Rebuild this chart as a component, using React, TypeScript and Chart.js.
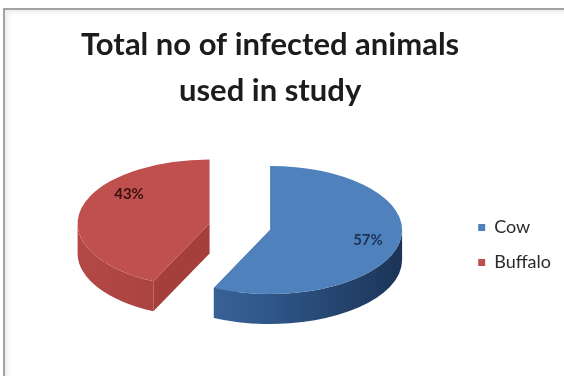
import React, { useEffect, useRef } from 'react';
import { Chart, registerables } from 'chart.js';

Chart.register(...registerables);

// Chart content
const titleLines = ['Total no of infected animals', 'used in study'];
const categories = ['Cow', 'Buffalo'];
const shares = [57, 43];

// Styling
const sliceColors = ['#4F81BD', '#C0504D'];
const wallStops = [
  ['#4470a8', '#2f5688', '#1b3457'],
  ['#b34946', '#a53f3c', '#943532'],
];
const cutFaceColors = ['#2f5688', '#a43f3c'];
const labelColors = ['#1b3157', '#3a1110'];
const labelPlacement = [
  { r: 0.76, turn: 0 },
  { r: 0.765, turn: 24.5 },
];
const sliceExplode = [0, 62];
const TILT = 0.485; // vertical squash of the pie top
const DEPTH = 30; // thickness of the pie body in px

type Slice = {
  i: number;
  ox: number;
  oy: number;
  s: number;
  e: number;
  R: number;
  mid: number;
};

const pie3d = {
  id: 'pie3d',
  beforeDatasetsDraw(chart: any) {
    const ctx: CanvasRenderingContext2D = chart.ctx;
    const meta = chart.getDatasetMeta(0);
    const data: number[] = chart.data.datasets[0].data;
    const total = data.reduce((a, b) => a + b, 0);

    const slices: Slice[] = meta.data.map((arc: any, i: number) => {
      const { x, y, startAngle, endAngle, outerRadius } = arc.getProps(
        ['x', 'y', 'startAngle', 'endAngle', 'outerRadius'],
        true
      );
      const explode = arc.options.offset || 0;
      const mid = (startAngle + endAngle) / 2;
      return {
        i,
        ox: x + Math.cos(mid) * explode,
        oy: y - DEPTH / 2 + Math.sin(mid) * explode * TILT,
        s: startAngle,
        e: endAngle,
        R: outerRadius,
        mid,
      };
    });

    const rim = (sl: Slice, a: number, z: number): [number, number] => [
      sl.ox + sl.R * Math.cos(a),
      sl.oy + sl.R * TILT * Math.sin(a) + z,
    ];

    const order = [...slices].sort((a, b) => Math.sin(a.mid) - Math.sin(b.mid));

    for (const sl of order) {
      // cut faces along both radial edges
      for (const a of [sl.s, sl.e]) {
        const [tx, ty] = rim(sl, a, 0);
        ctx.beginPath();
        ctx.moveTo(sl.ox, sl.oy);
        ctx.lineTo(tx, ty);
        ctx.lineTo(tx, ty + DEPTH);
        ctx.lineTo(sl.ox, sl.oy + DEPTH);
        ctx.closePath();
        ctx.fillStyle = cutFaceColors[sl.i];
        ctx.fill();
      }

      // outer wall, only the half facing the viewer
      for (let k = -1; k <= 1; k++) {
        const lo = Math.max(sl.s, 2 * Math.PI * k);
        const hi = Math.min(sl.e, 2 * Math.PI * k + Math.PI);
        if (hi <= lo) continue;
        const grad = ctx.createLinearGradient(sl.ox - sl.R, 0, sl.ox + sl.R, 0);
        const stops = wallStops[sl.i];
        grad.addColorStop(0, stops[0]);
        grad.addColorStop(0.5, stops[1]);
        grad.addColorStop(1, stops[2]);
        ctx.beginPath();
        ctx.ellipse(sl.ox, sl.oy, sl.R, sl.R * TILT, 0, lo, hi, false);
        const [bx, by] = rim(sl, hi, DEPTH);
        ctx.lineTo(bx, by);
        ctx.ellipse(sl.ox, sl.oy + DEPTH, sl.R, sl.R * TILT, 0, hi, lo, true);
        ctx.closePath();
        ctx.fillStyle = grad;
        ctx.fill();
      }

      // top face
      ctx.beginPath();
      ctx.moveTo(sl.ox, sl.oy);
      ctx.ellipse(sl.ox, sl.oy, sl.R, sl.R * TILT, 0, sl.s, sl.e, false);
      ctx.closePath();
      ctx.fillStyle = sliceColors[sl.i];
      ctx.fill();
    }

    // percentage labels
    ctx.save();
    ctx.font = 'bold 15px Lato';
    ctx.textAlign = 'center';
    ctx.textBaseline = 'middle';
    for (const sl of slices) {
      const place = labelPlacement[sl.i];
      const a = sl.mid + (place.turn * Math.PI) / 180;
      const r = sl.R * place.r;
      const lx = sl.ox + r * Math.cos(a);
      const ly = sl.oy + r * TILT * Math.sin(a);
      ctx.fillStyle = labelColors[sl.i];
      ctx.fillText(Math.round((data[sl.i] / total) * 100) + '%', lx, ly);
    }
    ctx.restore();

    return false;
  },
};

export default function App() {
  const canvasRef = useRef<HTMLCanvasElement | null>(null);

  useEffect(() => {
    const canvas = canvasRef.current;
    if (!canvas) return;
    const chart = new Chart(canvas, {
      type: 'pie',
      data: {
        labels: categories,
        datasets: [
          {
            data: shares,
            backgroundColor: sliceColors,
            borderWidth: 0,
            offset: sliceExplode,
            radius: 132,
          } as any,
        ],
      },
      options: {
        responsive: false,
        animation: false,
        devicePixelRatio: 1,
        events: [],
        layout: { padding: { left: 79, right: 3, top: 0, bottom: 0 } },
        plugins: {
          title: {
            display: true,
            fullSize: false,
            text: titleLines,
            color: '#1c1c1c',
            font: { family: 'Lato', size: 31, weight: 'bold', lineHeight: 46 / 31 },
            padding: { top: 22, bottom: 0 },
          },
          legend: {
            position: 'right',
            fullSize: false,
            labels: {
              color: '#2a2a2a',
              font: { family: 'Lato', size: 18 },
              boxWidth: 7,
              boxHeight: 7,
              padding: 17,
            },
          },
          tooltip: { enabled: false },
        },
      },
      plugins: [pie3d],
    });
    return () => chart.destroy();
  }, []);

  return (
    <div style={{ position: 'fixed', left: 0, top: 0, width: 564, height: 376, background: '#ffffff', overflow: 'hidden' }}>
      <canvas ref={canvasRef} width={564} height={376} style={{ position: 'absolute', left: 0, top: 0 }} />
      <div
        style={{
          position: 'absolute',
          left: 3,
          top: 8,
          width: 620,
          height: 420,
          borderLeft: '2px solid #a3a3a3',
          borderTop: '2px solid #a3a3a3',
          boxShadow: 'inset 3px 3px 4px rgba(0,0,0,0.07)',
          pointerEvents: 'none',
        }}
      />
    </div>
  );
}
